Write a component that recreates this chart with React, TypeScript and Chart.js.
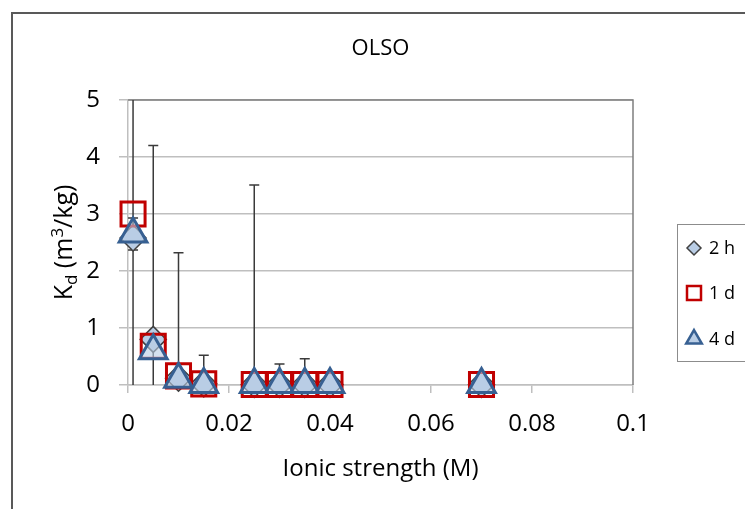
import React, { useEffect, useRef } from "react";
import { Chart, registerables } from "chart.js";

Chart.register(...registerables);

// ---- data ----
const ionicStrength = [0.001, 0.005, 0.01, 0.015, 0.025, 0.03, 0.035, 0.04, 0.07];
const kd2h = [2.58, 0.8, 0.12, 0.02, 0.01, 0.01, 0.01, 0.01, 0.01];
const kd1d = [3.0, 0.68, 0.16, 0.02, 0.01, 0.01, 0.01, 0.01, 0.01];
const kd4d = [2.65, 0.6, 0.1, 0.01, 0.01, 0.01, 0.01, 0.01, 0.01];
const err2h = [3.4, 3.4, 2.2, 0.5, 3.5, 0.36, 0.45, 0, 0];
const err4d = [0.28, 0, 0, 0, 0, 0, 0, 0, 0];
const seriesNames = ["2 h", "1 d", "4 d"];
const xTickLabels = ["0", "0.02", "0.04", "0.06", "0.08", "0.1"];
const yTickLabels = ["0", "1", "2", "3", "4", "5"];
const chartTitle = "OLSO";
const xTitle = "Ionic strength (M)";

const FONT = "'Open Sans', 'DejaVu Sans', sans-serif";
const FILL_BLUE = "#b9cde5";
const TRI_FILL = "rgba(185,205,229,0.6)";
const DIAMOND_STROKE = "#404040";
const SQUARE_RED = "#c00000";
const TRI_BLUE = "#376092";

function drawErrors(ctx: CanvasRenderingContext2D, xs: any, ys: any, vals: number[], errs: number[]) {
  for (let i = 0; i < vals.length; i++) {
    const e = errs[i];
    if (!e) continue;
    const px = xs.getPixelForValue(ionicStrength[i]);
    const hiV = vals[i] + e;
    const loV = vals[i] - e;
    const top = ys.getPixelForValue(hiV);
    const bot = ys.getPixelForValue(Math.max(0, loV));
    ctx.beginPath();
    ctx.moveTo(px, top);
    ctx.lineTo(px, bot);
    ctx.moveTo(px - 5, top);
    ctx.lineTo(px + 5, top);
    if (loV >= 0) {
      ctx.moveTo(px - 5, bot);
      ctx.lineTo(px + 5, bot);
    }
    ctx.stroke();
  }
}

const errorBarPlugin = {
  id: "errorBars",
  beforeDatasetsDraw(chart: any) {
    const { ctx, chartArea, scales } = chart;
    const xs = scales.x;
    const ys = scales.y;
    ctx.save();
    // plot frame (top and right)
    ctx.strokeStyle = "#7f7f7f";
    ctx.lineWidth = 1.5;
    ctx.beginPath();
    ctx.moveTo(chartArea.left, chartArea.top);
    ctx.lineTo(chartArea.right, chartArea.top);
    ctx.lineTo(chartArea.right, chartArea.bottom);
    ctx.stroke();
    ctx.beginPath();
    ctx.rect(chartArea.left, chartArea.top, chartArea.right - chartArea.left, chartArea.bottom - chartArea.top);
    ctx.clip();
    ctx.strokeStyle = "#3a3a3a";
    ctx.lineWidth = 1.5;
    drawErrors(ctx, xs, ys, kd2h, err2h);
    drawErrors(ctx, xs, ys, kd4d, err4d);
    ctx.restore();
  },
};

function legendMarker(ctx: CanvasRenderingContext2D, kind: number, x: number, y: number) {
  ctx.save();
  if (kind === 0) {
    const r = 7;
    ctx.beginPath();
    ctx.moveTo(x, y - r);
    ctx.lineTo(x + r, y);
    ctx.lineTo(x, y + r);
    ctx.lineTo(x - r, y);
    ctx.closePath();
    ctx.fillStyle = FILL_BLUE;
    ctx.fill();
    ctx.strokeStyle = DIAMOND_STROKE;
    ctx.lineWidth = 1.5;
    ctx.stroke();
  } else if (kind === 1) {
    const h = 7;
    ctx.strokeStyle = SQUARE_RED;
    ctx.lineWidth = 2.5;
    ctx.strokeRect(x - h, y - h, 2 * h, 2 * h);
  } else {
    const r = 9;
    ctx.beginPath();
    ctx.moveTo(x, y - r);
    ctx.lineTo(x + r * Math.sin((2 * Math.PI) / 3), y + r / 2);
    ctx.lineTo(x - r * Math.sin((2 * Math.PI) / 3), y + r / 2);
    ctx.closePath();
    ctx.fillStyle = FILL_BLUE;
    ctx.fill();
    ctx.strokeStyle = TRI_BLUE;
    ctx.lineWidth = 2.5;
    ctx.stroke();
  }
  ctx.restore();
}

const decorPlugin = {
  id: "decor",
  afterDraw(chart: any) {
    const { ctx, chartArea } = chart;
    ctx.save();
    // outer border
    ctx.strokeStyle = "#595959";
    ctx.lineWidth = 2;
    ctx.strokeRect(4, 5, 900, 700);

    // y-axis title with subscript / superscript
    const big = 25;
    const small = 17;
    const parts = [
      { t: "K", s: big, dy: 0 },
      { t: "d", s: small, dy: 5 },
      { t: " (m", s: big, dy: 0 },
      { t: "3", s: small, dy: -9 },
      { t: "/kg)", s: big, dy: 0 },
    ];
    let total = 0;
    for (const p of parts) {
      ctx.font = `${p.s}px ${FONT}`;
      total += ctx.measureText(p.t).width;
    }
    const cy = (chartArea.top + chartArea.bottom) / 2;
    ctx.translate(64, cy);
    ctx.rotate(-Math.PI / 2);
    ctx.fillStyle = "#000";
    ctx.textBaseline = "alphabetic";
    ctx.textAlign = "left";
    let cx = -total / 2;
    for (const p of parts) {
      ctx.font = `${p.s}px ${FONT}`;
      ctx.fillText(p.t, cx, p.dy);
      cx += ctx.measureText(p.t).width;
    }
    ctx.restore();

    // legend
    ctx.save();
    ctx.strokeStyle = "#8c8c8c";
    ctx.lineWidth = 1;
    ctx.strokeRect(669.5, 216.5, 200, 137);
    ctx.font = `18px ${FONT}`;
    ctx.fillStyle = "#000";
    ctx.textBaseline = "middle";
    ctx.textAlign = "left";
    const ys = [240, 285, 331];
    seriesNames.forEach((n, i) => {
      legendMarker(ctx, i, 686, ys[i]);
      ctx.fillText(n, 701, ys[i] + 1);
    });
    ctx.restore();
  },
};

function toPoints(vals: number[]) {
  return ionicStrength.map((x, i) => ({ x, y: vals[i] }));
}

export default function App() {
  const ref = useRef<HTMLCanvasElement | null>(null);
  useEffect(() => {
    if (!ref.current) return;
    const chart = new Chart(ref.current, {
      type: "scatter",
      data: {
        datasets: [
          {
            label: seriesNames[0],
            data: toPoints(kd2h),
            pointStyle: "rectRot",
            pointRadius: 13,
            backgroundColor: FILL_BLUE,
            borderColor: DIAMOND_STROKE,
            borderWidth: 1.5,
            order: 3,
            clip: false,
          } as any,
          {
            label: seriesNames[1],
            data: toPoints(kd1d),
            pointStyle: "rect",
            pointRadius: 17,
            backgroundColor: "rgba(0,0,0,0)",
            borderColor: SQUARE_RED,
            borderWidth: 3,
            order: 2,
            clip: false,
          } as any,
          {
            label: seriesNames[2],
            data: toPoints(kd4d),
            pointStyle: "triangle",
            pointRadius: 16,
            backgroundColor: TRI_FILL,
            borderColor: TRI_BLUE,
            borderWidth: 3,
            order: 1,
            clip: false,
          } as any,
        ],
      },
      options: {
        responsive: false,
        animation: false,
        events: [],
        layout: { padding: 0 },
        plugins: {
          legend: { display: false },
          tooltip: { enabled: false },
          title: {
            display: true,
            text: chartTitle,
            color: "#000",
            font: { family: FONT, size: 22, weight: "normal" },
            padding: { top: 28, bottom: 37.6 },
          },
        },
        scales: {
          x: {
            type: "linear",
            min: 0,
            max: 0.1,
            afterFit: (s: any) => {
              s.height = 124;
            },
            ticks: {
              stepSize: 0.02,
              color: "#000",
              padding: 17,
              font: { family: FONT, size: 24 },
              callback: (v: any, i: number) => xTickLabels[i] ?? String(v),
            },
            grid: {
              display: true,
              drawOnChartArea: false,
              drawTicks: true,
              tickLength: 8,
              color: "#bfbfbf",
              lineWidth: 1.5,
            },
            border: { display: true, color: "#bfbfbf", width: 1.5 },
            title: {
              display: true,
              text: xTitle,
              color: "#000",
              font: { family: FONT, size: 24 },
              padding: { top: 0, bottom: 25 },
            },
          },
          y: {
            type: "linear",
            min: 0,
            max: 5,
            afterFit: (s: any) => {
              s.width = 120;
            },
            ticks: {
              stepSize: 1,
              color: "#000",
              padding: 19,
              font: { family: FONT, size: 24 },
              callback: (v: any, i: number) => yTickLabels[i] ?? String(v),
            },
            grid: {
              color: "#bfbfbf",
              lineWidth: 1.5,
              drawTicks: true,
              tickLength: 9,
            },
            border: { display: true, color: "#bfbfbf", width: 1.5 },
          },
          legendSpace: {
            type: "linear",
            position: "right",
            display: true,
            afterFit: (s: any) => {
              s.width = 120;
            },
            ticks: { display: false },
            grid: { display: false, drawTicks: false },
            border: { display: false },
          },
        },
      } as any,
      plugins: [errorBarPlugin, decorPlugin],
    });
    return () => chart.destroy();
  }, []);
  return (
    <canvas
      ref={ref}
      width={745}
      height={501}
      style={{ display: "block", width: 745, height: 501 }}
    />
  );
}
